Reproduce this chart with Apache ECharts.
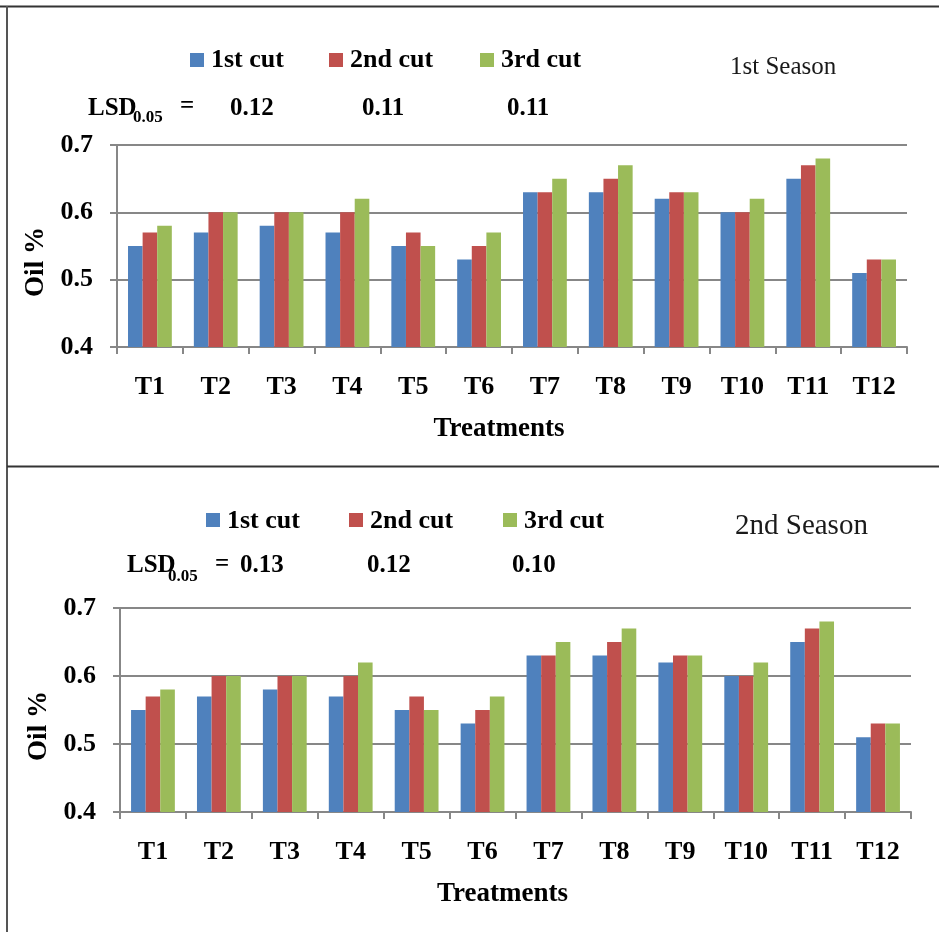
<!DOCTYPE html>
<html>
<head>
<meta charset="utf-8">
<title>Oil % by treatment and cut</title>
<script src="https://cdn.jsdelivr.net/npm/echarts@6/dist/echarts.min.js"></script>
<style>
  html, body { margin: 0; padding: 0; background: #fff; }
  #chart { width: 939px; height: 932px; }
</style>
</head>
<body>
<div id="chart"></div>
<script>
// Treatments on the x axis
const treatments = ['T1', 'T2', 'T3', 'T4', 'T5', 'T6', 'T7', 'T8', 'T9', 'T10', 'T11', 'T12'];
const cutNames = ['1st cut', '2nd cut', '3rd cut'];

// Oil % for each cut, 1st season
const season1Cut1 = [0.55, 0.57, 0.58, 0.57, 0.55, 0.53, 0.63, 0.63, 0.62, 0.60, 0.65, 0.51];
const season1Cut2 = [0.57, 0.60, 0.60, 0.60, 0.57, 0.55, 0.63, 0.65, 0.63, 0.60, 0.67, 0.53];
const season1Cut3 = [0.58, 0.60, 0.60, 0.62, 0.55, 0.57, 0.65, 0.67, 0.63, 0.62, 0.68, 0.53];

// Oil % for each cut, 2nd season
const season2Cut1 = [0.55, 0.57, 0.58, 0.57, 0.55, 0.53, 0.63, 0.63, 0.62, 0.60, 0.65, 0.51];
const season2Cut2 = [0.57, 0.60, 0.60, 0.60, 0.57, 0.55, 0.63, 0.65, 0.63, 0.60, 0.67, 0.53];
const season2Cut3 = [0.58, 0.60, 0.60, 0.62, 0.55, 0.57, 0.65, 0.67, 0.63, 0.62, 0.68, 0.53];

// LSD (0.05) values per cut
const lsdSeason1 = ['0.12', '0.11', '0.11'];
const lsdSeason2 = ['0.13', '0.12', '0.10'];

// Y axis range and step
const yMin = 0.4, yMax = 0.7, yStep = 0.1;

const SERIF = "'Liberation Serif', 'Times New Roman', serif";
const colors = ['#4F81BD', '#C0504D', '#9BBB59'];
const gridColor = '#878787';

// free-standing text, placed by its vertical centre
function label(text, left, centerY, size, bold) {
  const lh = Math.round(size * 1.05);
  return {
    text: text, left: left, top: centerY - lh / 2, padding: 0,
    textStyle: {
      color: bold ? '#000' : '#1a1a1a', fontFamily: SERIF,
      fontWeight: bold ? 'bold' : 'normal', fontSize: size, lineHeight: lh
    }
  };
}
function line(x1, y1, x2, y2, color) {
  return {
    type: 'line', silent: true,
    shape: { x1: x1, y1: y1, x2: x2, y2: y2 },
    style: { stroke: color, lineWidth: 2 }
  };
}
// legend key for the lower panel: colour square plus bold caption
function keyItem(idx, left, centerY) {
  return [
    { type: 'rect', silent: true, shape: { x: left, y: centerY - 7, width: 14, height: 14 }, style: { fill: colors[idx] } },
    { type: 'text', silent: true, x: left + 21, y: centerY + 1,
      style: { text: cutNames[idx], fill: '#000', font: 'bold 26px ' + SERIF, textAlign: 'left', textVerticalAlign: 'middle' } }
  ];
}

const titleFont = { color: '#000', fontFamily: SERIF, fontWeight: 'bold', fontSize: 27 };

function makeXAxis(gridIndex) {
  return {
    type: 'category', gridIndex: gridIndex, data: treatments,
    name: 'Treatments', nameLocation: 'middle', nameGap: 69,
    nameTextStyle: Object.assign({ padding: [0, 26, 0, 0] }, titleFont),
    axisLine: { show: true, lineStyle: { color: gridColor, width: 2 } },
    axisTick: { show: true, length: 7, lineStyle: { color: gridColor, width: 2 } },
    axisLabel: { color: '#000', fontFamily: SERIF, fontWeight: 'bold', fontSize: 26, margin: 27 },
    splitLine: { show: false }
  };
}
function makeYAxis(gridIndex, gap) {
  return {
    type: 'value', gridIndex: gridIndex, min: yMin, max: yMax, interval: yStep,
    name: 'Oil %', nameLocation: 'middle', nameRotate: 90, nameGap: gap,
    nameTextStyle: Object.assign({ padding: [0, 32, 0, 0] }, titleFont),
    axisLine: { show: true, lineStyle: { color: gridColor, width: 2 } },
    axisTick: { show: true, length: 7, lineStyle: { color: gridColor, width: 2 } },
    axisLabel: {
      color: '#000', fontFamily: SERIF, fontWeight: 'bold', fontSize: 26, margin: 24,
      formatter: v => v.toFixed(1)
    },
    splitLine: { show: true, lineStyle: { color: gridColor, width: 2 } }
  };
}
function makeBar(name, data, idx, axisIndex) {
  return {
    type: 'bar', name: name, data: data,
    xAxisIndex: axisIndex, yAxisIndex: axisIndex,
    barWidth: 14.6, barGap: '0%',
    itemStyle: { color: colors[idx] },
    emphasis: { disabled: true }
  };
}
function makeLegend(name, left, top) {
  return {
    data: [name], left: left, top: top, padding: 0,
    icon: 'rect', itemWidth: 14, itemHeight: 14,
    selectedMode: false,
    textStyle: { color: '#000', fontFamily: SERIF, fontWeight: 'bold', fontSize: 26, lineHeight: 26, padding: [0, 0, 0, 2] }
  };
}

const season1 = [season1Cut1, season1Cut2, season1Cut3];
const season2 = [season2Cut1, season2Cut2, season2Cut3];

const option = {
  backgroundColor: '#fff',
  animation: false,
  color: colors,
  grid: [
    { left: 117, top: 145, width: 790, height: 202 },
    { left: 120, top: 608, width: 791, height: 204 }
  ],
  xAxis: [makeXAxis(0), makeXAxis(1)],
  yAxis: [makeYAxis(0, 56), makeYAxis(1, 54)],
  legend: [
    makeLegend(cutNames[0], 190, 47),
    makeLegend(cutNames[1], 329, 47),
    makeLegend(cutNames[2], 480, 47)
  ],
  title: [
    // season captions
    label('1st Season', 730, 67, 25, false),
    label('2nd Season', 735, 526, 29, false),

    // LSD row, 1st season
    label('LSD', 88, 109, 25, true),
    label('0.05', 133, 118, 17, true),
    label('=', 180, 107, 25, true),
    label(lsdSeason1[0], 230, 109, 25, true),
    label(lsdSeason1[1], 362, 109, 25, true),
    label(lsdSeason1[2], 507, 109, 25, true),

    // LSD row, 2nd season
    label('LSD', 127, 566, 25, true),
    label('0.05', 168, 577, 17, true),
    label('=', 215, 565, 25, true),
    label(lsdSeason2[0], 240, 566, 25, true),
    label(lsdSeason2[1], 367, 566, 25, true),
    label(lsdSeason2[2], 512, 566, 25, true)
  ],
  series: [
    ...season1.map((d, i) => makeBar(cutNames[i], d, i, 0)),
    ...season2.map((d, i) => makeBar(cutNames[i], d, i, 1))
  ],
  graphic: [
    // panel frame
    line(0, 6.5, 939, 6.5, '#333'),
    line(7, 6, 7, 932, '#555'),
    line(7, 466.5, 939, 466.5, '#333'),
    // lower panel key
    ...keyItem(0, 206, 520),
    ...keyItem(1, 349, 520),
    ...keyItem(2, 503, 520)
  ]
};

const chart = echarts.init(document.getElementById('chart'), null, { renderer: 'canvas' });
chart.setOption(option);
</script>
</body>
</html>
